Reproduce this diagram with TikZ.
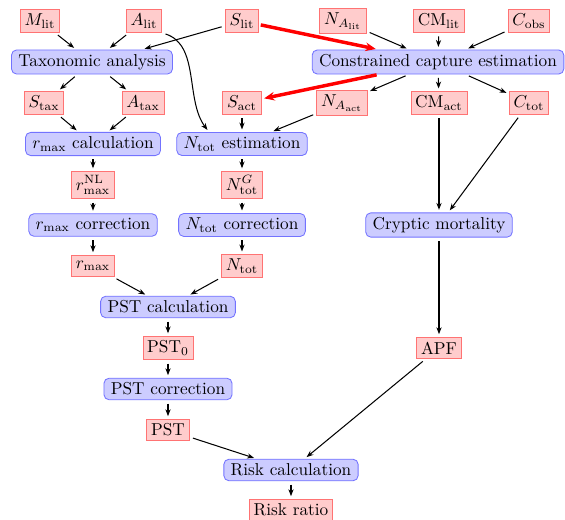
\documentclass[tikz,border=0pt]{standalone}
\usetikzlibrary{arrows.meta,calc}
\begin{document}
\begin{tikzpicture}[x=0.58pt,y=-0.58pt,
  qty/.style={draw=red!55,fill=red!20,inner xsep=2.5pt,inner ysep=2.5pt,minimum height=12.5pt,line width=0.5pt},
  proc/.style={draw=blue!55,fill=blue!20,rounded corners=3pt,inner xsep=4pt,inner ysep=2.5pt,minimum height=12.5pt,line width=0.5pt},
  arr/.style={-{Stealth[length=4pt,width=3pt]},line width=0.6pt,shorten >=1.5pt,shorten <=2pt},
  redarr/.style={-{Stealth[length=6pt,width=5pt]},line width=2pt,red,shorten >=1.5pt,shorten <=1pt}]
\useasboundingbox (0,0) rectangle (565,520);
% row 1
\node[qty] (Mlit) at (40,21) {$M_{\mathrm{lit}}$};
\node[qty] (Alit) at (144,21) {$A_{\mathrm{lit}}$};
\node[qty] (Slit) at (242,21) {$S_{\mathrm{lit}}$};
\node[qty] (NAlit) at (343,21) {$N_{A_{\mathrm{lit}}}$};
\node[qty] (CMlit) at (439,21) {$\mathrm{CM}_{\mathrm{lit}}$};
\node[qty] (Cobs) at (529,21) {$C_{\mathrm{obs}}$};
% row 2
\node[proc] (Taxo) at (92,62) {Taxonomic analysis};
\node[proc] (Constr) at (438,62) {Constrained capture estimation};
% row 3
\node[qty] (Stax) at (44,103) {$S_{\mathrm{tax}}$};
\node[qty] (Atax) at (143,103) {$A_{\mathrm{tax}}$};
\node[qty] (Sact) at (242,103) {$S_{\mathrm{act}}$};
\node[qty] (NAact) at (342,103) {$N_{A_{\mathrm{act}}}$};
\node[qty] (CMact) at (439,103) {$\mathrm{CM}_{\mathrm{act}}$};
\node[qty] (Ctot) at (529,103) {$C_{\mathrm{tot}}$};
% row 4
\node[proc] (rcalc) at (93,144) {$r_{\max}$ calculation};
\node[proc] (Ntotest) at (242,144) {$N_{\mathrm{tot}}$ estimation};
% row 5
\node[qty] (rNL) at (93,185) {$r_{\max}^{\mathrm{NL}}$};
\node[qty] (NtotG) at (242,185) {$N_{\mathrm{tot}}^{G}$};
% row 6
\node[proc] (rcorr) at (93,225) {$r_{\max}$ correction};
\node[proc] (Ntotcorr) at (242,225) {$N_{\mathrm{tot}}$ correction};
\node[proc] (Cryptic) at (439,225) {Cryptic mortality};
% row 7
\node[qty] (rmax) at (93,266) {$r_{\max}$};
\node[qty] (Ntot) at (242,266) {$N_{\mathrm{tot}}$};
% lower part
\node[proc] (PSTcalc) at (168,307) {PST calculation};
\node[qty] (PSTzero) at (168,348) {PST$_0$};
\node[qty] (APF) at (439,348) {APF};
\node[proc] (PSTcorr) at (168,389) {PST correction};
\node[qty] (PST) at (168,430) {PST};
\node[proc] (Risk) at (291,470) {Risk calculation};
\node[qty] (Ratio) at (291,510) {Risk ratio};
% edges
\draw[arr] (Mlit) -- (Taxo);
\draw[arr] (Alit) -- (Taxo);
\draw[arr] (Slit) -- ($(Taxo.north)!0.62!(Taxo.north east)$);
\draw[arr] (Alit.south east) .. controls (200,45) and (185,100) .. ([xshift=19pt]Ntotest.north west);
\draw[redarr] (Slit) -- (Constr);
\draw[redarr] (Constr) -- (Sact);
\draw[arr] (NAlit) -- (Constr);
\draw[arr] (CMlit) -- (Constr);
\draw[arr] (Cobs) -- (Constr);
\draw[arr] (Constr) -- (NAact);
\draw[arr] (Constr) -- (CMact);
\draw[arr] (Constr) -- (Ctot);
\draw[arr] (Taxo) -- (Stax);
\draw[arr] (Taxo) -- (Atax);
\draw[arr] (Stax) -- (rcalc);
\draw[arr] (Atax) -- (rcalc);
\draw[arr] (Sact) -- (Ntotest);
\draw[arr] (NAact) -- (Ntotest);
\draw[arr] (rcalc) -- (rNL);
\draw[arr] (rNL) -- (rcorr);
\draw[arr] (rcorr) -- (rmax);
\draw[arr] (Ntotest) -- (NtotG);
\draw[arr] (NtotG) -- (Ntotcorr);
\draw[arr] (Ntotcorr) -- (Ntot);
\draw[arr] (rmax) -- (PSTcalc);
\draw[arr] (Ntot) -- (PSTcalc);
\draw[arr] (PSTcalc) -- (PSTzero);
\draw[arr] (PSTzero) -- (PSTcorr);
\draw[arr] (PSTcorr) -- (PST);
\draw[arr] (CMact) -- (Cryptic);
\draw[arr] (Ctot) -- (Cryptic);
\draw[arr] (Cryptic) -- (APF);
\draw[arr] (APF) -- (Risk);
\draw[arr] (PST) -- (Risk);
\draw[arr] (Risk) -- (Ratio);
\end{tikzpicture}
\end{document}
